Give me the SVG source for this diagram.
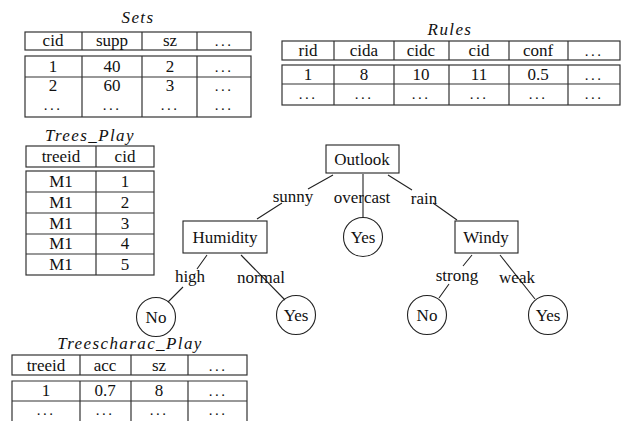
<svg xmlns="http://www.w3.org/2000/svg" width="623" height="422" viewBox="0 0 623 422" font-family="'Liberation Serif', 'DejaVu Serif', serif">
<style>
text{font-family:"Liberation Serif","DejaVu Serif",serif;font-size:17px;fill:#111;text-anchor:middle}
.t{font-style:italic;letter-spacing:1.4px}
.d{letter-spacing:2.5px;font-size:15px}
.g{fill:none;stroke:#333;stroke-width:1.2}
.c{fill:none;stroke:#222;stroke-width:1.1}
.e{stroke:#222;stroke-width:1.1;fill:none}
</style>
<rect width="623" height="422" fill="#fff"/>

<g id="sets">
<text class="t" x="138" y="23">Sets</text>
<rect class="g" x="25" y="32" width="226" height="18"/>
<rect class="g" x="25" y="56" width="226" height="61"/>
<path class="g" d="M82 32V50M142 32V50M197 32V50M82 56V117M142 56V117M197 56V117M25 77H251"/>
<text x="53" y="46">cid</text><text x="112" y="46">supp</text><text x="170" y="46">sz</text><text class="d" x="224" y="46">...</text>
<text x="53" y="72">1</text><text x="112" y="72">40</text><text x="170" y="72">2</text><text class="d" x="224" y="72">...</text>
<text x="53" y="91">2</text><text x="112" y="91">60</text><text x="170" y="91">3</text><text class="d" x="224" y="91">...</text>
<text class="d" x="53" y="110">...</text><text class="d" x="112" y="110">...</text><text class="d" x="170" y="110">...</text><text class="d" x="224" y="110">...</text>
</g>

<g id="rules">
<text class="t" x="450" y="35">Rules</text>
<rect class="g" x="282" y="41" width="338" height="19"/>
<rect class="g" x="282" y="65" width="338" height="40"/>
<path class="g" d="M334 41V60M394 41V60M449 41V60M509 41V60M568 41V60M334 65V105M394 65V105M449 65V105M509 65V105M568 65V105M282 84H620"/>
<text x="308" y="56">rid</text><text x="364" y="56">cida</text><text x="421" y="56">cidc</text><text x="479" y="56">cid</text><text x="538" y="56">conf</text><text class="d" x="594" y="56">...</text>
<text x="308" y="80">1</text><text x="364" y="80">8</text><text x="421" y="80">10</text><text x="479" y="80">11</text><text x="538" y="80">0.5</text><text class="d" x="594" y="80">...</text>
<text class="d" x="308" y="99">...</text><text class="d" x="364" y="99">...</text><text class="d" x="421" y="99">...</text><text class="d" x="479" y="99">...</text><text class="d" x="538" y="99">...</text><text class="d" x="594" y="99">...</text>
</g>

<g id="trees_play">
<text class="t" x="90" y="141">Trees_Play</text>
<rect class="g" x="26" y="146" width="128" height="21"/>
<rect class="g" x="26" y="171" width="128" height="104"/>
<path class="g" d="M96 146V167M96 171V275M26 192H154M26 213H154M26 234H154M26 254H154"/>
<text x="61" y="162">treeid</text><text x="125" y="162">cid</text>
<text x="61" y="187">M1</text><text x="125" y="187">1</text>
<text x="61" y="208">M1</text><text x="125" y="208">2</text>
<text x="61" y="229">M1</text><text x="125" y="229">3</text>
<text x="61" y="249">M1</text><text x="125" y="249">4</text>
<text x="61" y="270">M1</text><text x="125" y="270">5</text>
</g>

<g id="treescharac_play">
<text class="t" x="130" y="349">Treescharac_Play</text>
<rect class="g" x="12" y="355" width="235" height="20"/>
<path class="g" d="M12 421V381H247V421M80 355V375M131 355V375M188 355V375M80 381V421M131 381V421M188 381V421M12 401H247"/>
<text x="46" y="371">treeid</text><text x="105" y="371">acc</text><text x="159" y="371">sz</text><text class="d" x="218" y="371">...</text>
<text x="46" y="396">1</text><text x="105" y="396">0.7</text><text x="159" y="396">8</text><text class="d" x="218" y="396">...</text>
<text class="d" x="46" y="415">...</text><text class="d" x="105" y="415">...</text><text class="d" x="159" y="415">...</text><text class="d" x="218" y="415">...</text>
</g>

<g id="connectors">
<path class="e" d="M333 175L308 189M282 203L257 219"/>
<path class="e" d="M363 174V218"/>
<path class="e" d="M388 175L412 190M433 203L457 220"/>
<path class="e" d="M207 255L197 269M183 287L168 302"/>
<path class="e" d="M241 255L285 300"/>
<path class="e" d="M472 255L463 266M449 284L439 298"/>
<path class="e" d="M500 255L535 299"/>
</g>

<g id="labels">
<text x="293" y="202">sunny</text>
<text x="362" y="203">overcast</text>
<text x="424" y="204">rain</text>
<text x="190" y="282">high</text>
<text x="261" y="283">normal</text>
<text x="457" y="281">strong</text>
<text x="517" y="283">weak</text>
</g>

<g id="outlook"><rect class="c" x="326" y="145" width="73" height="28"/><text x="362" y="165">Outlook</text></g>
<g id="humidity"><rect class="c" x="183" y="221" width="84" height="32"/><text x="225" y="243">Humidity</text></g>
<g id="windy"><rect class="c" x="455" y="221" width="63" height="32"/><text x="486" y="243">Windy</text></g>
<g id="yes1"><circle class="c" cx="363" cy="237" r="19.5"/><text x="363" y="243">Yes</text></g>
<g id="no1"><circle class="c" cx="156" cy="317" r="19.5"/><text x="156" y="323">No</text></g>
<g id="yes2"><circle class="c" cx="296" cy="315" r="19.5"/><text x="296" y="321">Yes</text></g>
<g id="no2"><circle class="c" cx="427" cy="315" r="19.5"/><text x="427" y="321">No</text></g>
<g id="yes3"><circle class="c" cx="548" cy="315" r="19.5"/><text x="548" y="321">Yes</text></g>
</svg>
